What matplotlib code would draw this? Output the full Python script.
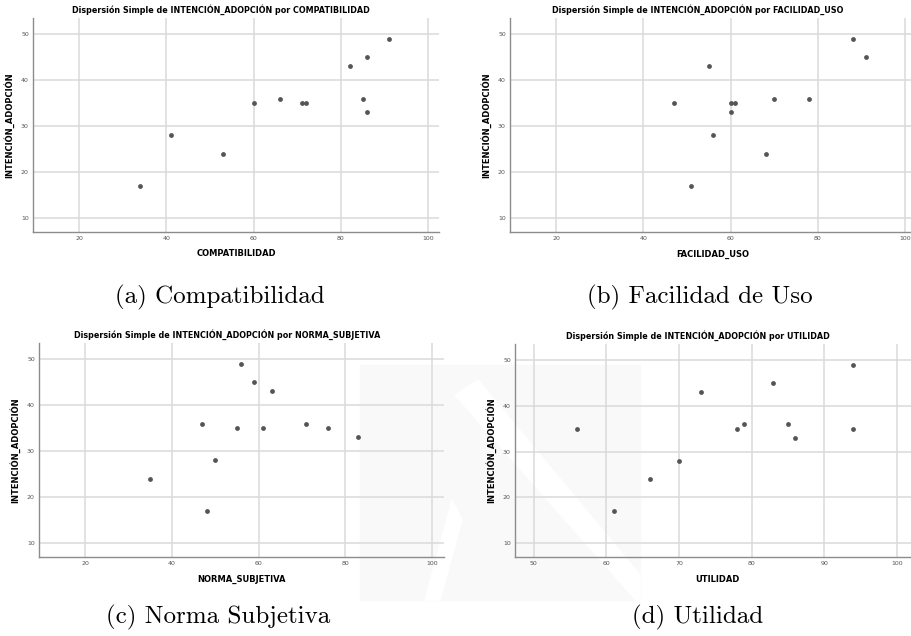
import numpy as np
import matplotlib
matplotlib.use("Agg")
import matplotlib.pyplot as plt
from matplotlib.patches import Polygon, Rectangle

# data (y = INTENCIÓN_ADOPCIÓN)
compat_x = [34, 41, 53, 60, 66, 71, 72, 82, 85, 86, 86, 91]
compat_y = [17, 28, 24, 35, 36, 35, 35, 43, 36, 45, 33, 49]

facil_x = [47, 51, 55, 56, 60, 61, 60, 68, 70, 78, 88, 91]
facil_y = [35, 17, 43, 28, 35, 35, 33, 24, 36, 36, 49, 45]

norma_x = [35, 47, 48, 50, 55, 56, 59, 61, 63, 71, 76, 83]
norma_y = [24, 36, 17, 28, 35, 49, 45, 35, 43, 36, 35, 33]

util_x = [56, 61, 66, 70, 73, 78, 79, 83, 85, 86, 94, 94]
util_y = [35, 17, 24, 28, 43, 35, 36, 45, 36, 33, 49, 35]

var_names = ["COMPATIBILIDAD", "FACILIDAD_USO", "NORMA_SUBJETIVA", "UTILIDAD"]
captions = ["(a) Compatibilidad", "(b) Facilidad de Uso",
            "(c) Norma Subjetiva", "(d) Utilidad"]
y_name = "INTENCIÓN_ADOPCIÓN"

W, H = 911, 636
fig = plt.figure(figsize=(W / 100, H / 100), dpi=100)


def px(xp, yp):
    return (xp / W, 1 - yp / H)


def px_rect(left, top, right, bottom):
    return [left / W, 1 - bottom / H, (right - left) / W, (bottom - top) / H]


# very faint watermark behind the lower panels
fig.patches.append(Rectangle(px(360, 600), 280 / W, 235 / H,
                             transform=fig.transFigure, color="#f9f9f9",
                             zorder=-5))
fig.patches.append(Polygon([px(455, 395), px(478, 380), px(640, 575), px(640, 605)],
                           closed=True, transform=fig.transFigure,
                           color="white", zorder=-4))
fig.patches.append(Polygon([px(452, 500), px(462, 520), px(440, 600), px(425, 600)],
                           closed=True, transform=fig.transFigure,
                           color="white", zorder=-4))

# panel boxes in pixels: left, top, right, bottom
boxes = [(33, 18, 439, 232), (510, 18, 916, 232),
         (39, 343, 444, 557), (515, 344, 920, 557)]
xlims = [(9.4, 102.5), (9.4, 102.5), (9.4, 102.7), (47.4, 103.2)]
xticks = [[20, 40, 60, 80, 100]] * 3 + [[50, 60, 70, 80, 90, 100]]
title_x = [0.463, 0.462, 0.464, 0.452]
data = [(compat_x, compat_y), (facil_x, facil_y),
        (norma_x, norma_y), (util_x, util_y)]

title_font = "DejaVu Sans"

for i in range(4):
    ax = fig.add_axes(px_rect(*boxes[i]))
    ax.set_facecolor("none")
    x, y = data[i]
    ax.scatter(x, y, s=12, color="#555555", zorder=3, linewidths=0)
    ax.set_xlim(*xlims[i])
    ax.set_ylim(7, 53.5)
    ax.set_xticks(xticks[i])
    ax.set_yticks([10, 20, 30, 40, 50])
    ax.grid(True, color="#dadada", linewidth=1.1)
    ax.set_axisbelow(True)
    for s in ["top", "right"]:
        ax.spines[s].set_visible(False)
    for s in ["left", "bottom"]:
        ax.spines[s].set_color("#8c8c8c")
        ax.spines[s].set_linewidth(1.0)
    ax.tick_params(length=0, labelsize=4.5, labelcolor="#555555", pad=3)
    ax.set_xlabel(var_names[i], fontsize=6, fontweight="bold",
                  family=title_font, labelpad=6)
    ax.set_ylabel(y_name, fontsize=6, fontweight="bold",
                  family=title_font, labelpad=5)
    ax.set_title("Dispersión Simple de %s por %s" % (y_name, var_names[i]),
                 fontsize=5.8, fontweight="bold", family=title_font, pad=4,
                 x=title_x[i])

# captions under each panel
cap_pos = [(220, 297), (700, 297), (218, 617), (698, 617)]
for (cx, cy), txt in zip(cap_pos, captions):
    fig.text(cx / W, 1 - cy / H, txt, ha="center", va="center",
             fontsize=18, family=["cmr10", "DejaVu Serif"])

fig.savefig("out.png", dpi=100)
